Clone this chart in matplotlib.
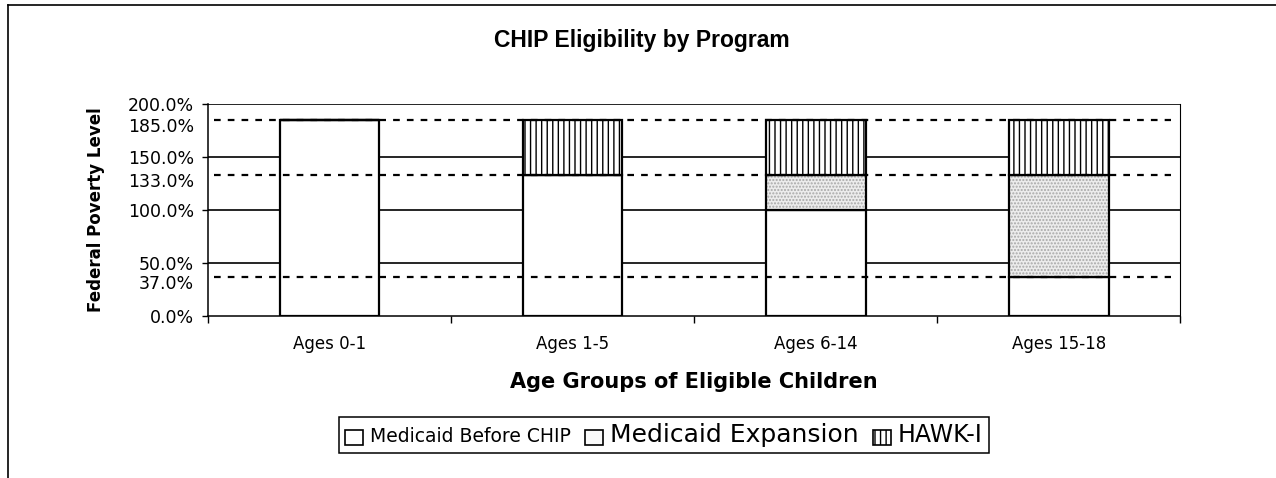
import matplotlib
matplotlib.use("Agg")
import matplotlib.pyplot as plt
import matplotlib.transforms as mtransforms
from matplotlib.patches import Patch
from matplotlib.lines import Line2D
from matplotlib.ticker import FixedLocator, FuncFormatter

# age groups and eligibility bands (% of federal poverty level)
age_groups = ["Ages 0-1", "Ages 1-5", "Ages 6-14", "Ages 15-18"]
medicaid_before = [185, 133, 100, 37]
medicaid_expansion = [0, 0, 33, 96]
hawk_i = [0, 52, 52, 52]

grid_levels = [0, 50, 100, 150, 200]
cutoffs = [37, 133, 185]

plt.rcParams['font.family'] = ['DejaVu Sans']
plt.rcParams['hatch.linewidth'] = 1.0

fig = plt.figure(figsize=(12.76, 4.78), dpi=100)
ax = fig.add_axes([0.163, 0.339, 0.762, 0.4435])

x = list(range(len(age_groups)))
w = 0.41

for lvl in grid_levels[1:]:
    ax.axhline(lvl, color='black', lw=1.2, zorder=0)

ax.bar(x, medicaid_before, w, color='white', edgecolor='black', lw=1.6, zorder=2)
# stippled band: fill first, then outline on top
ax.bar(x, medicaid_expansion, w, bottom=medicaid_before, color='#ececec',
       edgecolor='#a8a8a8', hatch='.....', lw=0, zorder=2)
ax.bar(x, medicaid_expansion, w, bottom=medicaid_before, fill=False,
       edgecolor='black', lw=1.6, zorder=3)
top2 = [a + b for a, b in zip(medicaid_before, medicaid_expansion)]
ax.bar(x, hawk_i, w, bottom=top2, color='white', edgecolor='black',
       hatch='|||', lw=1.6, zorder=3)

for c in cutoffs:
    ax.axhline(c, xmin=0.006, xmax=0.99, color='black', lw=1.6,
               ls=(0, (3, 3.2)), zorder=5)

ax.set_xlim(-0.5, len(age_groups) - 0.5)
ax.set_ylim(0, 200)
pct = FuncFormatter(lambda v, p: f"{v:.1f}%")
ax.yaxis.set_major_locator(FixedLocator(grid_levels))
ax.yaxis.set_minor_locator(FixedLocator(cutoffs))
ax.yaxis.set_major_formatter(pct)
ax.yaxis.set_minor_formatter(pct)
ax.tick_params(axis='y', which='major', labelsize=12.5, length=4, width=1, pad=6)
ax.tick_params(axis='y', which='minor', labelsize=12.5, length=0, pad=10)

ax.set_xticks([i - 0.5 for i in range(len(age_groups) + 1)])
ax.set_xticklabels([])
ax.set_xticks(x, minor=True)
ax.set_xticklabels(age_groups, minor=True)
ax.tick_params(axis='x', which='major', length=5, width=1)
ax.tick_params(axis='x', which='minor', length=0, labelsize=12, pad=14)

for s in ax.spines.values():
    s.set_linewidth(1.1)
ax.spines['top'].set_visible(False)
ax.spines['right'].set_linewidth(0.8)

ax.set_ylabel("Federal Poverty Level", fontsize=12, fontweight='bold')
ax.yaxis.set_label_coords(-0.106, 0.5)
ax.set_xlabel("Age Groups of Eligible Children", fontsize=15,
              fontweight='bold')
ax.xaxis.set_label_coords(0.5, -0.262)

fig.text(0.503, 1 - 40 / 478, "CHIP Eligibility by Program",
         ha='center', va='center', fontsize=16.5, fontweight='bold',
         family='Liberation Sans')

handles = [
    Patch(facecolor='white', edgecolor='black', lw=1.2),
    Patch(facecolor='#fafafa', edgecolor='black', lw=1.2),
    Patch(facecolor='white', edgecolor='black', hatch='|||', lw=1.2),
]
leg = fig.legend(handles, ["Medicaid Before CHIP", "Medicaid Expansion", "HAWK-I"],
                 loc='center', bbox_to_anchor=(664 / 1276, 1 - 435 / 478),
                 ncol=3, frameon=True, fancybox=False, edgecolor='black',
                 framealpha=1, handlelength=1.3, handleheight=1.3,
                 handletextpad=0.5, columnspacing=1.0, borderpad=0.45,
                 borderaxespad=0)
leg.get_frame().set_linewidth(1.1)
for t, fs in zip(leg.get_texts(), [13.5, 18, 17]):
    t.set_fontsize(fs)

fig.canvas.draw()
# the cutoff labels sit a little below their lines
shift = mtransforms.ScaledTranslation(0, -5 / 100, fig.dpi_scale_trans)
for lab in ax.yaxis.get_minorticklabels():
    lab.set_transform(lab.get_transform() + shift)

# chart border (left and top edges)
fig.add_artist(Line2D([8 / 1276, 8 / 1276], [0, 1 - 5 / 478], color='black', lw=1.2,
                      transform=fig.transFigure))
fig.add_artist(Line2D([8 / 1276, 1], [1 - 5 / 478, 1 - 5 / 478], color='black', lw=1.2,
                      transform=fig.transFigure))

fig.savefig("out.png", dpi=100)
